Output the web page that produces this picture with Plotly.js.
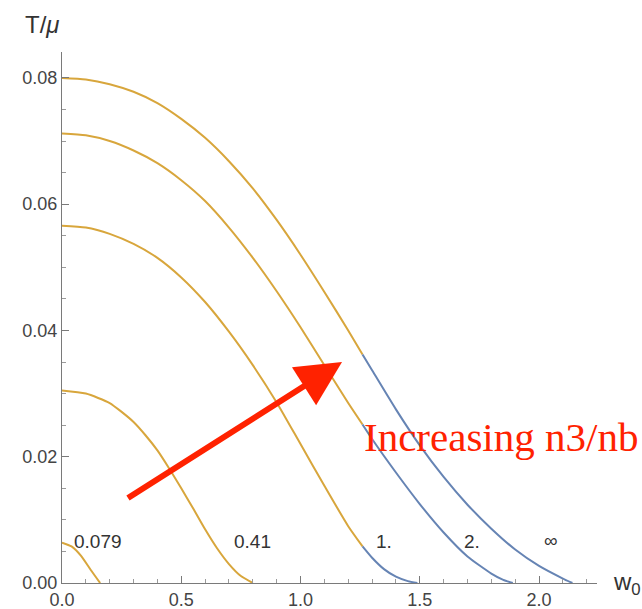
<!DOCTYPE html>
<html>
<head>
<meta charset="utf-8">
<script src="https://cdn.plot.ly/plotly-3.0.1.min.js"></script>
<style>html,body{margin:0;padding:0;background:#fff;}#chart{width:642px;height:609px;}</style>
</head>
<body>
<div id="chart"></div>
<script>
// ---- data ----
const curveNames = ["0.079", "0.41", "1.", "2.", "∞"];
const wSplit = 1.26; // curves are drawn blue beyond this w0

const w_0079 = [0, 0.04, 0.08, 0.12, 0.16];
const T_0079 = [0.0064, 0.0058, 0.0043, 0.0021, 0.0];

const w_041 = [0, 0.1, 0.2, 0.25, 0.3, 0.35, 0.4, 0.45, 0.5, 0.55, 0.6, 0.65, 0.7, 0.75, 0.8];
const T_041 = [0.0305, 0.0300, 0.0285, 0.0271, 0.0255, 0.0234, 0.0210, 0.0181, 0.0150, 0.0118, 0.0085, 0.0055, 0.0030, 0.0011, 0.0];

const w_1 = [0, 0.1, 0.2, 0.3, 0.4, 0.5, 0.6, 0.7, 0.8, 0.9, 1.0, 1.1, 1.2, 1.26, 1.3, 1.35, 1.4, 1.45, 1.49];
const T_1 = [0.0566, 0.0563, 0.0553, 0.0537, 0.0515, 0.0484, 0.0445, 0.0398, 0.0345, 0.0286, 0.0220, 0.0154, 0.0090, 0.0058, 0.0040, 0.0022, 0.0010, 0.0003, 0.0];

const w_2 = [0, 0.1, 0.2, 0.3, 0.4, 0.5, 0.6, 0.7, 0.8, 0.9, 1.0, 1.1, 1.2, 1.26, 1.3, 1.4, 1.5, 1.6, 1.7, 1.8, 1.85, 1.89];
const T_2 = [0.0712, 0.0709, 0.0700, 0.0685, 0.0665, 0.0638, 0.0605, 0.0563, 0.0515, 0.0462, 0.0405, 0.0345, 0.0285, 0.0251, 0.0228, 0.0175, 0.0125, 0.0080, 0.0042, 0.0015, 0.0005, 0.0];

const w_inf = [0, 0.1, 0.2, 0.3, 0.4, 0.5, 0.6, 0.7, 0.8, 0.9, 1.0, 1.1, 1.2, 1.26, 1.3, 1.4, 1.5, 1.6, 1.7, 1.8, 1.9, 2.0, 2.1, 2.14];
const T_inf = [0.0800, 0.07975, 0.0790, 0.0778, 0.0760, 0.0735, 0.0705, 0.0668, 0.0625, 0.0575, 0.0520, 0.0461, 0.0400, 0.0362, 0.0337, 0.0275, 0.0218, 0.0168, 0.0124, 0.0086, 0.0053, 0.0027, 0.0007, 0.0];

// label positions for curve names
const labelW = [0.15, 0.80, 1.35, 1.72, 2.05];
const labelT = [0.0066, 0.0066, 0.0066, 0.0066, 0.0068];

const xTicks = [0, 0.5, 1.0, 1.5, 2.0];
const yTicks = [0, 0.02, 0.04, 0.06, 0.08];

// ---- build traces ----
const GOLD = "#D8A63C";
const BLUE = "#6684B4";
const curves = [[w_0079, T_0079], [w_041, T_041], [w_1, T_1], [w_2, T_2], [w_inf, T_inf]];
const traces = [];
curves.forEach(([w, T], i) => {
  const gw = [], gt = [], bw = [], bt = [];
  for (let k = 0; k < w.length; k++) {
    if (w[k] <= wSplit) { gw.push(w[k]); gt.push(T[k]); }
    if (w[k] >= wSplit) { bw.push(w[k]); bt.push(T[k]); }
  }
  traces.push({x: gw, y: gt, mode: "lines", line: {color: GOLD, width: 2, shape: "spline", smoothing: 0.6}, name: curveNames[i], hoverinfo: "skip", showlegend: false});
  if (bw.length > 1) {
    traces.push({x: bw, y: bt, mode: "lines", line: {color: BLUE, width: 2, shape: "spline", smoothing: 0.6}, name: curveNames[i], hoverinfo: "skip", showlegend: false});
  }
});

const annotations = curveNames.map((n, i) => ({
  x: labelW[i], y: labelT[i], xref: "x", yref: "y", text: n, showarrow: false,
  xanchor: "center", yanchor: "middle",
  font: {family: "Liberation Sans, Arial, sans-serif", size: 19, color: "#333"}
}));
annotations.push({
  xref: "paper", yref: "paper", x: 0, y: 1, xanchor: "center", yanchor: "bottom",
  xshift: -20, yshift: 12, text: "T/<i>μ</i>", showarrow: false,
  font: {family: "Liberation Sans, Arial, sans-serif", size: 24, color: "#333"}
});
annotations.push({
  xref: "paper", yref: "paper", x: 1, y: 0, xanchor: "left", yanchor: "middle",
  xshift: 14, yshift: 0, text: "w<sub>0</sub>", showarrow: false,
  font: {family: "Liberation Sans, Arial, sans-serif", size: 24, color: "#333"}
});
// red arrow
annotations.push({
  x: 1.174, y: 0.0350, xref: "x", yref: "y",
  ax: 0.264, ay: 0.01315, axref: "x", ayref: "y",
  text: " ", showarrow: true, arrowhead: 2, arrowsize: 1.5, arrowwidth: 6, arrowcolor: "#FF2200"
});
annotations.push({
  x: 1.84, y: 0.0231, xref: "x", yref: "y", xanchor: "center", yanchor: "middle",
  text: "Increasing n3/nb", showarrow: false,
  font: {family: "Liberation Serif, Times New Roman, serif", size: 41, color: "#FF2200"}
});

const axisFont = {family: "Liberation Sans, Arial, sans-serif", size: 18, color: "#444"};
const layout = {
  width: 642, height: 609,
  margin: {l: 62, r: 45, t: 52, b: 26, pad: 0},
  paper_bgcolor: "#fff", plot_bgcolor: "#fff",
  showlegend: false,
  xaxis: {
    range: [0, 2.243], showline: true, linecolor: "#7a7a7a", linewidth: 1,
    showgrid: false, zeroline: false, ticks: "inside", ticklen: 7, tickcolor: "#7a7a7a",
    tickvals: xTicks, tickformat: ".1f", tickfont: axisFont,
    minor: {dtick: 0.1, tick0: 0, ticks: "inside", ticklen: 4, tickcolor: "#9a9a9a", showgrid: false}
  },
  yaxis: {
    range: [0, 0.0841], showline: true, linecolor: "#7a7a7a", linewidth: 1,
    showgrid: false, zeroline: false, ticks: "inside", ticklen: 7, tickcolor: "#7a7a7a",
    tickvals: yTicks, tickformat: ".2f", tickfont: axisFont,
    minor: {dtick: 0.005, tick0: 0, ticks: "inside", ticklen: 4, tickcolor: "#9a9a9a", showgrid: false}
  },
  annotations: annotations
};

Plotly.newPlot("chart", traces, layout, {displayModeBar: false, staticPlot: true});
</script>
</body>
</html>
